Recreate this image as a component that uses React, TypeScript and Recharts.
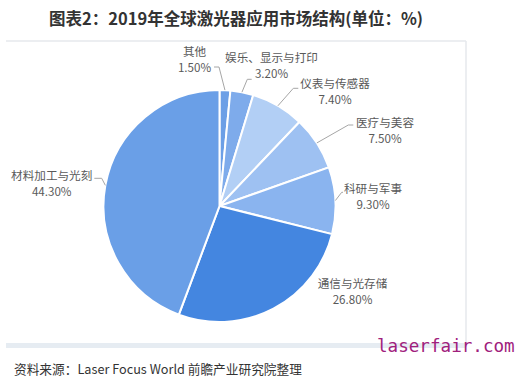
import { Cell, Pie, PieChart } from "recharts";

const W = 523;
const H = 378;

// 2019 global laser application market share, %
const categories = ["其他", "娱乐、显示与打印", "仪表与传感器", "医疗与美容", "科研与军事", "通信与光存储", "材料加工与光刻"];
const shares = [1.5, 3.2, 7.4, 7.5, 9.3, 26.8, 44.3];
const sliceColors = ["#6c9fe6", "#7eabeb", "#b2cff5", "#9ec1f2", "#8ab4ef", "#4486e0", "#6a9fe7"];

const data = categories.map((name, i) => ({ name, value: shares[i] }));

// label placement relative to the pie centre: elbow dx/dy, tail dx, text centre dx, line1 dy, line2 dy
const LABEL_LAYOUT: (number | null)[][] = [
  [-0.5, -139, -5.5, -25, -155, -139],
  [27.8, -126.7, 32.2, 52, -149.5, -133],
  [73.8, -117.7, 78.8, 115.5, -123, -107],
  [128.8, -81, 133.8, 165.5, -84.5, -68.5],
  [122.2, -13.7, 123.5, 153.5, -18, -2],
  [null, null, null, 133, 77, 93],
  [-117.8, -27.7, -125.2, -167.8, -31.5, -15],
];

const LABEL_FONT = '"Noto Sans CJK SC", "Microsoft YaHei", sans-serif';
const RADIAN = Math.PI / 180;

function renderLabel(props: any) {
  const { cx, cy, midAngle, outerRadius, index, name, value } = props;
  const [ex, ey, tx, lx, y1, y2] = LABEL_LAYOUT[index];
  const sx = cx + outerRadius * Math.cos(-midAngle * RADIAN);
  const sy = cy + outerRadius * Math.sin(-midAngle * RADIAN);
  return (
    <g key={`lbl-${index}`}>
      {ex !== null && (
        <polyline
          points={`${sx},${sy} ${cx + ex},${cy + (ey as number)} ${cx + (tx as number)},${cy + (ey as number)}`}
          fill="none"
          stroke="#a6a6a6"
          strokeWidth={1}
        />
      )}
      <text x={cx + (lx as number)} y={cy + (y1 as number)} textAnchor="middle" dominantBaseline="central" fontSize={11.6} fill="#595959" fontFamily={LABEL_FONT}>
        {name}
      </text>
      <text x={cx + (lx as number)} y={cy + (y2 as number)} textAnchor="middle" dominantBaseline="central" fontSize={11.6} fill="#595959" fontFamily={LABEL_FONT}>
        {`${value.toFixed(2)}%`}
      </text>
    </g>
  );
}

export default function App() {
  return (
    <div style={{ position: "absolute", left: 0, top: 0, width: W, height: H, background: "#fff", overflow: "hidden" }}>
      <svg width={W} height={H} style={{ position: "absolute", left: 0, top: 0 }}>
        <line x1={6} y1={41} x2={466} y2={41} stroke="#e6e9ec" strokeWidth={1.5} />
        <line x1={466} y1={41} x2={466} y2={345} stroke="#e6e9ec" strokeWidth={1.5} />
        <rect x={6} y={343} width={460} height={5} fill="#e6ecf2" />
      </svg>
      <div style={{ position: "absolute", left: 0, top: 0 }}>
        <PieChart width={W} height={H} margin={{ top: 0, right: 0, bottom: 0, left: 0 }}>
          <Pie
            data={data}
            dataKey="value"
            nameKey="name"
            cx={219.5}
            cy={206}
            outerRadius={116}
            startAngle={90}
            endAngle={-270}
            stroke="#ffffff"
            strokeWidth={2}
            label={renderLabel}
            labelLine={false}
            isAnimationActive={false}
          >
            {data.map((d, i) => (
              <Cell key={d.name} fill={sliceColors[i]} />
            ))}
          </Pie>
        </PieChart>
      </div>
      <svg width={W} height={H} style={{ position: "absolute", left: 0, top: 0, pointerEvents: "none" }}>
        <text x={236} y={18} textAnchor="middle" dominantBaseline="central" fontSize={16.5} fontWeight={700} fill="#333333" fontFamily={LABEL_FONT}>
          图表2：2019年全球激光器应用市场结构(单位：%)
        </text>
        <text x={377} y={352} fontSize={17.6} fill="#a0207c" fontFamily='"DejaVu Sans Mono", monospace'>
          laserfair.com
        </text>
        <text x={14} y={368} dominantBaseline="central" fontSize={12.7} fill="#333333" fontFamily={LABEL_FONT}>
          资料来源：Laser Focus World 前瞻产业研究院整理
        </text>
      </svg>
    </div>
  );
}
